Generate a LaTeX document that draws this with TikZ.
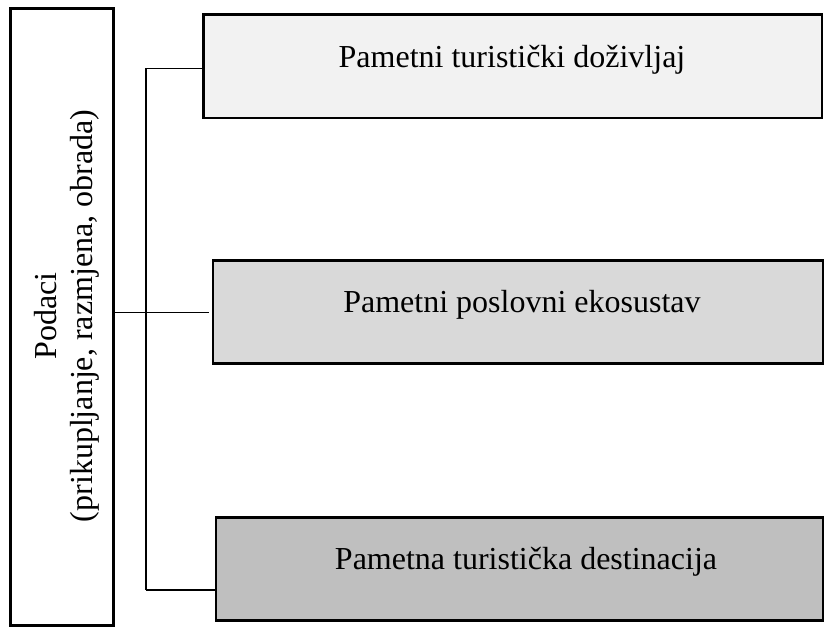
\documentclass[tikz,border=0pt]{standalone}
\usepackage{fontspec}
\setmainfont{Liberation Serif}
\definecolor{fillA}{HTML}{F2F2F2}
\definecolor{fillB}{HTML}{D9D9D9}
\definecolor{fillC}{HTML}{BFBFBF}
\begin{document}
\begin{tikzpicture}[x=1pt,y=-1pt,
  box/.style={draw=black,line width=2.2pt},
  conn/.style={draw=black,line width=1.1pt},
  lbl/.style={anchor=base,inner sep=0pt,font=\fontsize{32}{37}\selectfont}]
\useasboundingbox (0,0) rectangle (824,627);
% boxes
\path[box,fill=white] (10.5,8.5) rectangle (113.5,625.5);
\path[box,fill=fillA] (203.5,14.5) rectangle (822,118);
\path[box,fill=fillB] (213,260.5) rectangle (823,363.5);
\path[box,fill=fillC] (216,517.5) rectangle (823,620.5);
% named anchors for connectors
\coordinate (Leftbox) at (113.5,312.3);
\coordinate (TopW) at (203.5,68.3);
\coordinate (MidW) at (209,312.3);
\coordinate (BotW) at (216,590);
\coordinate (vTop) at (146,68.3);
\coordinate (vBot) at (146,590);
% texts
\node[lbl,rotate=90] (l1) at (56,316) {Podaci};
\node[lbl,rotate=90] (l2) at (92,316) {(prikupljanje, razmjena, obrada)};
\node[lbl] (t1) at (512,67) {Pametni turistički doživljaj};
\node[lbl] (t2) at (522,312) {Pametni poslovni ekosustav};
\node[lbl] (t3) at (526,569) {Pametna turistička destinacija};
% connectors
\draw[conn] (vTop) -- (vBot);
\draw[conn] (vTop) -- (TopW);
\draw[conn] (Leftbox) -- (MidW);
\draw[conn] (vBot) -- (BotW);
\end{tikzpicture}
\end{document}
